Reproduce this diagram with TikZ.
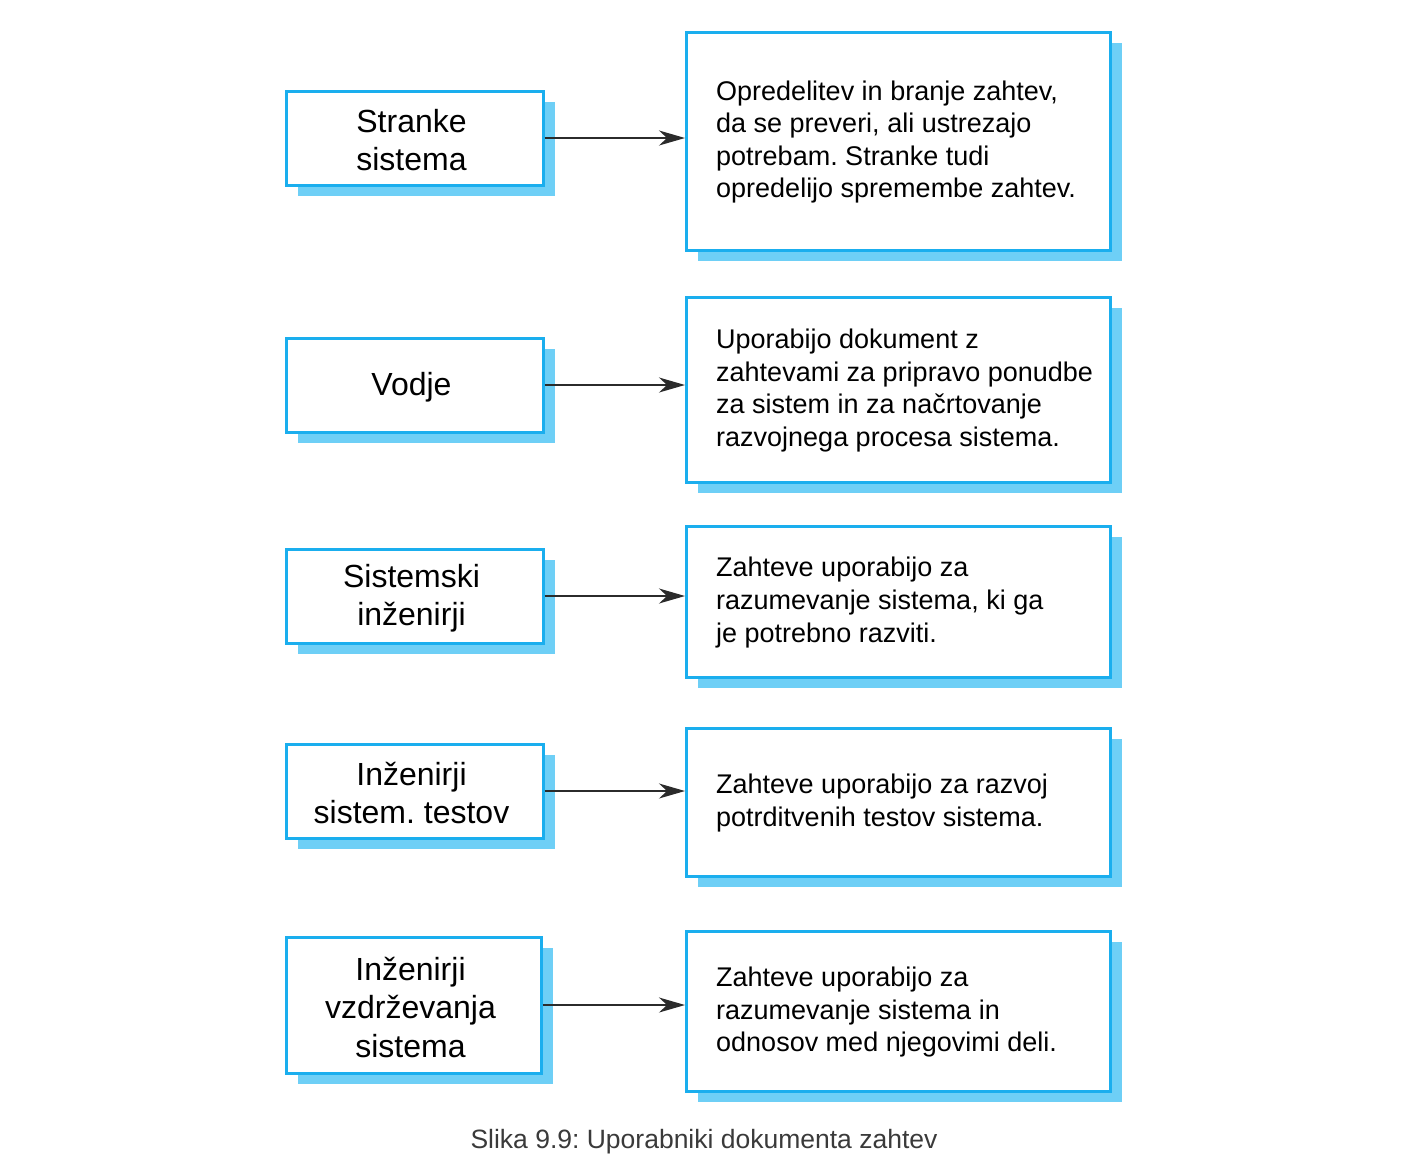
\documentclass[tikz,border=0pt]{standalone}
\usepackage{fontspec}
\setmainfont{Liberation Sans}
\usetikzlibrary{arrows.meta}
\frenchspacing
\definecolor{boxblue}{HTML}{1AAEEE}
\definecolor{shadowblue}{HTML}{6ECFF6}
\definecolor{arrowgray}{HTML}{2B2B2B}
\definecolor{captiongray}{HTML}{3A3A3A}
\tikzset{
  shadowbox/.style={fill=shadowblue, draw=none},
  mainbox/.style={fill=white, draw=boxblue, line width=3pt},
  lefttext/.style={font=\fontsize{32}{38.5}\selectfont, align=center, text=black},
  righttext/.style={font=\fontsize{27}{32.6}\selectfont, align=left, anchor=west, text=black, inner sep=0pt},
  conn/.style={draw=arrowgray, line width=1.6pt, -{Stealth[length=26pt,width=15pt,inset=8pt]}},
}
\newcommand{\rowboxes}[9]{%
  % #1 name, #2 lx1, #3 ly1, #4 lx2, #5 ly2, #6 ry1, #7 ry2, #8 left text, #9 right text
  \fill[shadowbox] (#2+12,#3+11) rectangle (#4+12,#5+11);
  \fill[shadowbox] (698,#6+11) rectangle (1122,#7+11);
  \draw[mainbox] (#2,#3) rectangle (#4,#5);
  \draw[mainbox] (686,#6) rectangle (1110,#7);
  \node[lefttext] (#1L) at ({(#2+#4)/2-3},{(#3+#5)/2+2}) {#8};
  \node[righttext] (#1R) at (716,{(#6+#7)/2+1}) {#9};
  \coordinate (#1a) at (#4+1.5,{(#3+#5)/2});
  \coordinate (#1b) at (685,{(#3+#5)/2});
  \draw[conn] (#1a) -- (#1b);
}
\begin{document}
\begin{tikzpicture}[x=1pt,y=-1pt]
\useasboundingbox (0,0) rectangle (1410,1171);
\rowboxes{r1}{286}{91}{543}{185}{32}{250}{Stranke\\sistema}{Opredelitev in branje zahtev,\\da se preveri, ali ustrezajo\\potrebam. Stranke tudi\\opredelijo spremembe zahtev.}
\rowboxes{r2}{286}{338}{543}{432}{297}{482}{Vodje}{Uporabijo dokument z\\zahtevami za pripravo ponudbe\\za sistem in za načrtovanje\\razvojnega procesa sistema.}
\rowboxes{r3}{286}{549}{543}{643}{526}{677}{Sistemski\\inženirji}{Zahteve uporabijo za\\razumevanje sistema, ki ga\\je potrebno razviti.}
\rowboxes{r4}{286}{744}{543}{838}{728}{876}{Inženirji\\sistem. testov}{Zahteve uporabijo za razvoj\\potrditvenih testov sistema.}
\rowboxes{r5}{286}{937}{541}{1073}{931}{1091}{Inženirji\\vzdrževanja\\sistema}{Zahteve uporabijo za\\razumevanje sistema in\\odnosov med njegovimi deli.}
\node[font=\fontsize{26.5}{30}\selectfont, text=captiongray] (cap) at (704,1142) {Slika 9.9: Uporabniki dokumenta zahtev};
\end{tikzpicture}
\end{document}
